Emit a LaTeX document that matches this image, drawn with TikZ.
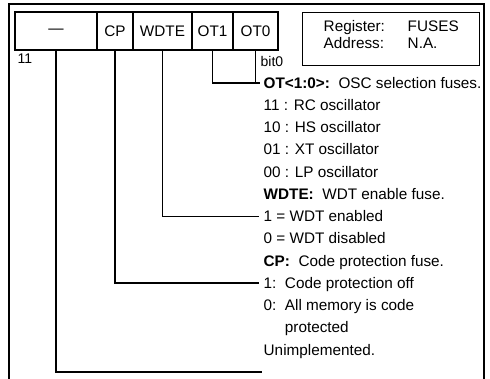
\documentclass[tikz,border=0pt]{standalone}
\usepackage{fontspec}
\setmainfont{Liberation Sans}
\usetikzlibrary{positioning}

\begin{document}
\begin{tikzpicture}[
  x=1pt, y=-1pt,
  line width=1.4pt,
  cell/.style={rectangle, draw=black, line width=1.4pt, inner sep=0pt, outer sep=0pt, minimum height=38pt, font=\fontsize{15.3}{18}\selectfont},
  infobox/.style={rectangle, draw=black, line width=1.4pt, inner sep=0pt, minimum width=177pt, minimum height=53pt},
  txt/.style={anchor=west, inner sep=0pt, text height=10.5pt, text depth=0pt, font=\fontsize{15.3}{18}\selectfont},
  small/.style={txt, font=\fontsize{14}{16}\selectfont}
]
\useasboundingbox (0,0) rectangle (490,379);

% outer frame, open at the bottom
\draw (9,379) |- (484,4) -- (484,379);

% register bits
\node[cell, minimum width=82pt, anchor=north west] (unimpl) at (15,12) {---};
\node[cell, minimum width=36pt, right=0pt of unimpl] (cp) {CP};
\node[cell, minimum width=59pt, right=0pt of cp] (wdte) {WDTE};
\node[cell, minimum width=41pt, right=0pt of wdte] (otone) {OT1};
\node[cell, minimum width=45pt, right=0pt of otone] (otzero) {OT0};

\node[small, anchor=north west] (msb) at (17,52) {11};
\node[small] (lsb) at (260,61) {bit0};

% register name
\node[infobox, anchor=north west] (info) at (302,12) {};
\node[txt] (reglbl) at (323,26) {Register:};
\node[txt] (regval) at (407,26) {FUSES};
\node[txt] (addrlbl) at (323,43) {Address:};
\node[txt] (addrval) at (407,43) {N.A.};

% bit descriptions
\node[txt] (osc) at (263,83) {\textbf{OT<1:0>:}\ \ OSC selection fuses.};
\node[txt] (rc) at (263,105.2) {11 : RC oscillator};
\node[txt] (hs) at (263,127.5) {10 : HS oscillator};
\node[txt] (xt) at (263,149.7) {01 : XT oscillator};
\node[txt] (lp) at (263,171.9) {00 : LP oscillator};
\node[txt] (wdtfuse) at (263,194.2) {\textbf{WDTE:}\ \ WDT enable fuse.};
\node[txt] (wdton) at (263,216.4) {1 = WDT enabled};
\node[txt] (wdtoff) at (263,238.6) {0 = WDT disabled};
\node[txt] (cpfuse) at (263,260.8) {\textbf{CP:}\ \ Code protection fuse.};
\node[txt] (cpoff) at (263,283.1) {1:\ \ Code protection off};
\node[txt] (cpon) at (263,305.3) {0:\ \ All memory is code};
\node[txt] (cpon2) at (263,327.5) {\phantom{0:\ \ }protected};
\node[txt] (unused) at (263,349.8) {Unimplemented.};
\coordinate (unimplend) at (262,372);

% leader lines
\draw (otone.south) |- (otzero.south |- osc.west);
\draw (otzero.south) |- ([xshift=-3pt]osc.west);
\draw (wdte.south) |- ([xshift=-4pt]wdton.west);
\draw (cp.south) |- ([xshift=-4pt]cpoff.west);
\draw (unimpl.south) |- (unimplend);

\end{tikzpicture}
\end{document}
